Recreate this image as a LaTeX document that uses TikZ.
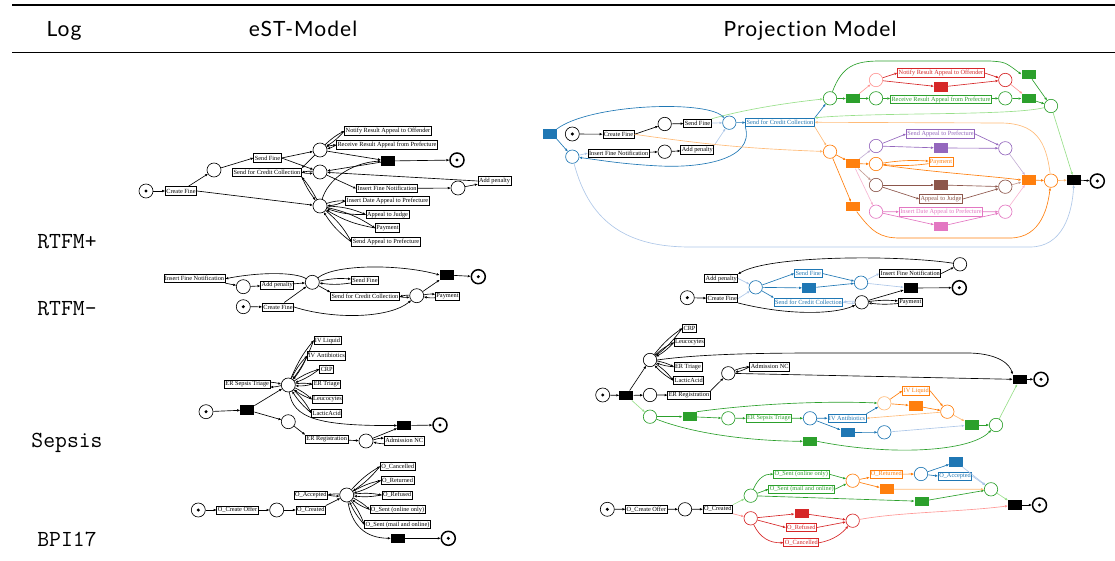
\documentclass[tikz,border=0pt]{standalone}
\usepackage{fontspec}
\setmainfont{Liberation Serif}
\newfontfamily\headfont[LetterSpace=5,Ligatures=NoCommon]{Lato}
\usepackage{tikz}
\usetikzlibrary{arrows.meta}

\definecolor{tblue}{HTML}{1F77B4}
\definecolor{torange}{HTML}{FF7F0E}
\definecolor{tgreen}{HTML}{2CA02C}
\definecolor{tred}{HTML}{D62728}
\definecolor{tpurple}{HTML}{9467BD}
\definecolor{tbrown}{HTML}{8C564B}
\definecolor{tpink}{HTML}{E377C2}
\definecolor{lblue}{HTML}{AEC7E8}
\definecolor{lorange}{HTML}{FFBB78}
\definecolor{lgreen}{HTML}{98DF8A}
\definecolor{lred}{HTML}{FF9896}
\definecolor{lpurple}{HTML}{C5B0D5}
\definecolor{lbrown}{HTML}{C49C94}
\definecolor{lpink}{HTML}{F7B6D2}

\tikzset{
  head/.style={font=\headfont\fontsize{21}{24}\selectfont, inner sep=0pt},
  logname/.style={font=\ttfamily\fontsize{23}{26}\selectfont, inner sep=0pt},
  pl/.style={circle, draw, minimum size=14pt, inner sep=0pt, line width=0.65pt, fill=white},
  ppl/.style={pl, minimum size=13.4pt},
  tokpl/.style={pl, path picture={\fill[black] (path picture bounding box.center) circle (1.7pt);}},
  finpl/.style={tokpl, line width=1.5pt},
  tr/.style={rectangle, fill=black, minimum width=14pt, minimum height=9.5pt, inner sep=0pt},
  act/.style={rectangle, draw, fill=white, line width=0.8pt, font=\fontsize{6.3}{7}\selectfont,
    inner xsep=1pt, inner ysep=0.4pt, minimum height=8.2pt},
  cact/.style={act, draw=#1, text=#1},
  arc/.style={-{Triangle[length=2.8pt,width=2.2pt]}, line width=0.65pt},
}

\begin{document}
\begin{tikzpicture}[x=1pt,y=-1pt]
\useasboundingbox (0,0) rectangle (1115,561);
% table rules and headings
\draw[line width=1.2pt] (12,5) -- (1115,5);
\draw[line width=0.8pt] (12,52) -- (1115,52);
\node[head, anchor=base] (hlog) at (64,37) {Log};
\node[head, anchor=base] (hest) at (303,37) {eST-Model};
\node[head, anchor=base] (hproj) at (810,37) {Projection Model};
\node[logname, anchor=base] (lrp) at (67,248) {RTFM+};
\node[logname, anchor=base] (lrm) at (67,315) {RTFM-};
\node[logname, anchor=base] (lse) at (67,447.5) {Sepsis};
\node[logname, anchor=base] (lbp) at (67,546.5) {BPI17};

% ---------- RTFM+ eST ----------
\node[tokpl] (a0) at (146,191) {};
\node[act] (aCF) at (181,191) {Create Fine};
\node[pl] (a1) at (214,170) {};
\node[act] (aSF) at (267.5,158) {Send Fine};
\node[act] (aSC) at (267,172.5) {Send for Credit Collection};
\node[pl] (a2) at (320,150) {};
\node[pl] (a3) at (320,172) {};
\node[pl] (a4) at (320,206) {};
\node[act] (aNR) at (388,131) {Notify Result Appeal to Offender};
\node[act] (aRR) at (387,145) {Receive Result Appeal from Prefecture};
\node[tr] (aT) at (388,161) {};
\node[finpl] (aE) at (457,160) {};
\node[act] (aIF) at (387,188.5) {Insert Fine Notification};
\node[pl] (a5) at (458,188) {};
\node[act] (aAP) at (494.5,181) {Add penalty};
\node[act] (aID) at (387.5,201) {Insert Date Appeal to Prefecture};
\node[act] (aAJ) at (387.5,214.5) {Appeal to Judge};
\node[act] (aPA) at (387.5,228) {Payment};
\node[act] (aSA) at (386,242) {Send Appeal to Prefecture};
\draw[arc] (a0) -- (aCF);
\draw[arc] (aCF) -- (a1);
\draw[arc] (aCF.east) -- (a4);
\draw[arc] (a1) -- (aSF.west);
\draw[arc] (aSF.east) -- (a2);
\draw[arc] (aSF.east) -- (a3);
\draw[arc] (a2) -- (aSC.north east);
\draw[arc] (a3) to[bend right=8] (aSC.east);
\draw[arc] (aSC.east) to[bend right=8] (a3);
\draw[arc] (a4) to[bend right=6] (aSC.south east);
\draw[arc] (aSC.south east) to[bend right=6] (a4);
\foreach \t in {aNR,aRR} {
  \draw[arc] (a2) to[bend left=8] (\t.west);
  \draw[arc] (\t.west) to[bend left=8] (a2);
}
\draw[arc] (a2) -- (aT);
\draw[arc] (aT) -- (a3);
\draw[arc] (a4) .. controls (328,180) and (350,163) .. (aT.west);
\draw[arc] (aT) -- (aE);
\draw[arc] (a3) -- (aIF.west);
\draw[arc] (aIF) -- (a5);
\draw[arc] (a5) -- (aAP);
\draw[arc] (aAP.west) -- (a3);
\foreach \t in {aID,aAJ,aPA,aSA} {
  \draw[arc] (a4) to[bend left=10] (\t.west);
  \draw[arc] (\t.west) to[bend left=10] (a4);
}

% ---------- RTFM+ projection ----------
\node[tr, fill=tblue] (bB) at (549.5,134) {};
\node[tokpl] (b0) at (572.3,134) {};
\node[act] (bCF) at (618.5,134.3) {Create Fine};
\node[ppl] (b1) at (664.7,124) {};
\node[act] (bSF) at (697.5,123.3) {Send Fine};
\node[ppl, draw=tblue] (b2) at (729.3,122.7) {};
\node[cact=tblue] (bSC) at (780,122.3) {Send for Credit Collection};
\node[ppl, draw=tblue] (b3) at (572.3,156.7) {};
\node[act] (bIF) at (618.7,153.2) {Insert Fine Notification};
\node[ppl] (b4) at (664.7,151.7) {};
\node[act] (bAP) at (697.3,150) {Add penalty};
\node[ppl, draw=tgreen] (g1) at (830,98.3) {};
\node[tr, fill=tgreen] (gT1) at (853,98.7) {};
\node[ppl, draw=tgreen] (g2) at (876,98.3) {};
\node[cact=tgreen] (gRR) at (941,99.5) {Receive Result Appeal from Prefecture};
\node[ppl, draw=tgreen] (g3) at (1005.3,98.3) {};
\node[tr, fill=tgreen] (gT2) at (1028.5,98.7) {};
\node[tr, fill=tgreen] (gT3) at (1028.5,74.3) {};
\node[ppl, draw=tgreen] (g4) at (1051,106) {};
\node[ppl, draw=lred] (r1) at (876,80) {};
\node[cact=tred] (rNR) at (941,73) {Notify Result Appeal to Offender};
\node[tr, fill=tred] (rT) at (941,87) {};
\node[ppl, draw=tred] (r2) at (1005.3,80) {};
\node[ppl, draw=torange] (o1) at (830,151.7) {};
\node[tr, fill=torange] (oT1) at (853,163.7) {};
\node[tr, fill=torange] (oT2) at (853,206.7) {};
\node[ppl, draw=tpurple] (u1) at (876,146) {};
\node[cact=tpurple] (uSA) at (940.5,134) {Send Appeal to Prefecture};
\node[tr, fill=tpurple] (uT) at (941,148) {};
\node[ppl, draw=tpurple] (u2) at (1005.3,148.3) {};
\node[ppl, draw=torange] (o2) at (876,164) {};
\node[cact=torange] (oPA) at (941,162) {Payment};
\node[ppl, draw=tbrown] (w1) at (876,185) {};
\node[tr, fill=tbrown] (wT) at (941,185) {};
\node[cact=tbrown] (wAJ) at (941,199) {Appeal to Judge};
\node[ppl, draw=tbrown] (w2) at (1005.3,186.7) {};
\node[ppl, draw=tpink] (k1) at (876,211.7) {};
\node[cact=tpink] (kID) at (941,212) {Insert Date Appeal to Prefecture};
\node[tr, fill=tpink] (kT) at (941,226.3) {};
\node[ppl, draw=tpink] (k2) at (1005.3,211.7) {};
\node[tr, fill=torange] (oT3) at (1028.5,180) {};
\node[ppl, draw=torange] (o3) at (1051,180.7) {};
\node[tr] (bT) at (1074,180) {};
\node[finpl] (bE) at (1097.3,181) {};
% black and blue part
\draw[arc] (b0) -- (bCF);
\draw[arc] (bCF.east) -- (b1);
\draw[arc] (b1) -- (bSF);
\draw[arc] (bIF) -- (b4);
\draw[arc] (b4) -- (bAP);
\draw[arc, tblue] (bB.north east) .. controls (590,104) and (705,100) .. (b2);
\draw[arc, tblue] (bB.south east) -- (b3);
\draw[arc, tblue] (b2) -- (bSC);
\draw[arc, tblue] (bSC.south west) .. controls (755,160) and (700,168) .. (660,166) .. controls (620,164) and (600,160) .. (b3);
\draw[arc, tblue] (bSC.north east) -- (g1);
\draw[arc, lblue] (b3) -- (bIF.west);
\draw[arc, lblue] (bAP.north east) -- (b2);
\draw[arc, lblue] (bSF) -- (b2);
\draw[arc, lblue] (b3) .. controls (590,225) and (630,247) .. (690,247) -- (1030,247) .. controls (1062,247) and (1072,215) .. (bT);
\draw[arc, lgreen] (bSF.north east) .. controls (750,108) and (795,102) .. (g1);
\draw[arc, lgreen] (g4) .. controls (1010,116) and (880,112) .. (bSC.north east);
\draw[arc, lorange] (o3) .. controls (1046,140) and (1035,123) .. (1000,123) -- (bSC.east);
\draw[arc, lorange] (bCF.east) to[bend right=3] (o1);
\draw[arc, lorange] (bSC.south east) -- (o1);
% green and red part
\draw[arc, tgreen] (g1) -- (gT1);
\draw[arc, tgreen] (gT1) -- (g2);
\draw[arc, tgreen] (g2) -- (gRR);
\draw[arc, tgreen] (gRR) -- (g3);
\draw[arc, tgreen] (g3) -- (gT2);
\draw[arc, tgreen] (gT2) -- (g4);
\draw[arc, tgreen] (gT3) -- (g4);
\draw[arc, tgreen] (g1) .. controls (842,66) and (855,61) .. (880,61) -- (990,61) .. controls (1005,62) .. (gT3.west);
\draw[arc, lgreen] (g4) -- (bT);
\draw[arc, lred] (gT1) -- (r1);
\draw[arc, lred] (r2) -- (gT2);
\draw[arc, tred] (r1) -- (rNR.west);
\draw[arc, tred] (r1) -- (rT);
\draw[arc, tred] (rNR.east) -- (r2);
\draw[arc, tred] (rT) -- (r2);
% orange part
\draw[arc, torange] (o1) -- (oT1);
\draw[arc, torange] (o1) -- (oT2);
\draw[arc, torange] (oT1) -- (o2);
\draw[arc, torange] (o2) to[bend left=6] (oPA);
\draw[arc, torange] (oPA) to[bend left=6] (o2);
\draw[arc, torange] (o2) .. controls (930,172) and (990,176) .. (oT3.west);
\draw[arc, torange] (oT3) -- (o3);
\draw[arc, torange] (oT2) .. controls (872,232) and (880,238) .. (900,238) -- (1010,238) .. controls (1042,238) and (1048,205) .. (o3);
\draw[arc, lorange] (o3) -- (bT);
\draw[arc, lpurple] (oT1) -- (u1);
\draw[arc, lpurple] (u2) -- (oT3);
\draw[arc, tpurple] (u1) -- (uSA.west);
\draw[arc, tpurple] (uSA.east) -- (u2);
\draw[arc, tpurple] (u1) -- (uT);
\draw[arc, tpurple] (uT) -- (u2);
\draw[arc, lbrown] (oT1) -- (w1);
\draw[arc, lbrown] (w2) -- (oT3);
\draw[arc, tbrown] (w1) -- (wT);
\draw[arc, tbrown] (wT) -- (w2);
\draw[arc, tbrown] (w1) -- (wAJ.west);
\draw[arc, tbrown] (wAJ.east) -- (w2);
\draw[arc, lpink] (oT1) -- (k1);
\draw[arc, lpink] (k2) -- (oT3);
\draw[arc, tpink] (k1) -- (kID);
\draw[arc, tpink] (kID) -- (k2);
\draw[arc, tpink] (k1) -- (kT);
\draw[arc, tpink] (kT) -- (k2);
\draw[arc] (bT) -- (bE);

% ---------- RTFM- eST ----------
\node[act] (cIF) at (194.5,278.7) {Insert Fine Notification};
\node[pl] (c1) at (243.3,286.7) {};
\node[act] (cAP) at (277.2,285.2) {Add penalty};
\node[pl] (c2) at (312.3,282.3) {};
\node[act] (cSF) at (365,280.5) {Send Fine};
\node[tr] (cT) at (446.7,275) {};
\node[finpl] (cE) at (478.3,276.7) {};
\node[tokpl] (c0) at (243.3,306.7) {};
\node[act] (cCF) at (278,307) {Create Fine};
\node[act] (cSC) at (365,296.7) {Send for Credit Collection};
\node[pl] (c3) at (416.7,295.7) {};
\node[act] (cPA) at (447.5,296.3) {Payment};
\draw[arc] (c2) .. controls (295,272) and (260,272) .. (cIF.east);
\draw[arc] (cIF.south east) -- (c1);
\draw[arc] (c1) -- (cAP);
\draw[arc] (cAP) -- (c2);
\draw[arc] (c0) -- (cCF);
\draw[arc] (cCF) -- (c2);
\draw[arc] (cCF.east) .. controls (335,320) and (390,318) .. (c3);
\draw[arc] (c2) to[bend left=8] (cSF);
\draw[arc] (cSF) to[bend left=8] (c2);
\draw[arc] (c2) -- (cSC.north west);
\draw[arc] (c3) to[bend right=8] (cSC.east);
\draw[arc] (cSC.east) to[bend right=8] (c3);
\draw[arc] (c2) .. controls (335,264) and (400,264) .. (cT.west);
\draw[arc] (c3) -- (cT);
\draw[arc] (cT) -- (cE);
\draw[arc] (c3) to[bend left=8] (cPA);
\draw[arc] (cPA) to[bend left=8] (c3);

% ---------- RTFM- projection ----------
\node[tokpl] (d0) at (687.3,297.7) {};
\node[act] (dCF) at (722.2,298.5) {Create Fine};
\node[act] (dAP) at (721.2,278.5) {Add penalty};
\node[ppl, draw=tblue] (d1) at (755.7,287.3) {};
\node[cact=tblue] (dSF) at (808.3,273.5) {Send Fine};
\node[tr, fill=tblue] (dB) at (809.2,288) {};
\node[cact=tblue] (dSC) at (808.5,302.2) {Send for Credit Collection};
\node[ppl, draw=tblue] (d2) at (861,282.7) {};
\node[ppl] (d3) at (861.7,302.3) {};
\node[act] (dIF) at (910.3,273.5) {Insert Fine Notification};
\node[ppl] (d4) at (960,264.3) {};
\node[tr] (dT) at (910.8,288) {};
\node[finpl] (dE) at (959.3,287.7) {};
\node[act] (dPA) at (910.3,302.2) {Payment};
\draw[arc] (d0) -- (dCF);
\draw[arc, lblue] (dCF.east) -- (d1);
\draw[arc, lblue] (dAP.east) -- (d1);
\draw[arc] (dCF.south east) .. controls (790,316) and (835,314) .. (d3);
\draw[arc, tblue] (d1) -- (dSF.west);
\draw[arc, tblue] (d1) -- (dB);
\draw[arc, tblue] (d1) -- (dSC.north west);
\draw[arc, tblue] (dSF.east) -- (d2);
\draw[arc, tblue] (dB) -- (d2);
\draw[arc, lblue] (d3) to[bend right=8] (dSC.east);
\draw[arc, lblue] (dSC.east) to[bend right=8] (d3);
\draw[arc, lblue] (d2) -- (dIF.west);
\draw[arc, lblue] (d2) -- (dT);
\draw[arc] (dIF.east) -- (d4);
\draw[arc] (d4) .. controls (900,255) and (770,255) .. (dAP.north east);
\draw[arc] (d3) -- (dT);
\draw[arc] (dT) -- (dE);
\draw[arc] (d3) to[bend left=6] (dPA);
\draw[arc] (dPA) to[bend left=6] (d3);

% ---------- Sepsis eST ----------
\node[tokpl] (e0) at (206,411.7) {};
\node[tr] (eT1) at (247.2,410) {};
\node[pl] (eh) at (288.3,385) {};
\node[act] (eST) at (247.2,384.2) {ER Sepsis Triage};
\node[act] (eIL) at (327.5,340.5) {IV Liquid};
\node[act] (eIA) at (326.7,355.8) {IV Antibiotics};
\node[act] (eCR) at (326.7,369.2) {CRP};
\node[act] (eET) at (326.7,384.2) {ER Triage};
\node[act] (eLE) at (327.5,399.2) {Leucocytes};
\node[act] (eLA) at (326.7,413) {LacticAcid};
\node[pl] (e2) at (288.3,421.7) {};
\node[act] (eER) at (326.7,439.2) {ER Registration};
\node[pl] (e3) at (366,441) {};
\node[act] (eAN) at (404.2,440.8) {Admission NC};
\node[tr] (eT2) at (404.2,425.5) {};
\node[finpl] (eE) at (440,425) {};
\draw[arc] (e0) -- (eT1);
\draw[arc] (eT1) -- (eh);
\draw[arc] (eT1) -- (e2);
\draw[arc] (eh) to[bend left=6] (eST);
\draw[arc] (eST) to[bend left=6] (eh);
\foreach \t in {eIL,eIA,eCR,eET,eLE,eLA} {
  \draw[arc] (eh) to[bend left=8] (\t.west);
  \draw[arc] (\t.west) to[bend left=8] (eh);
}
\draw[arc] (eh) .. controls (293,418) and (318,426) .. (eT2.west);
\draw[arc] (e2) -- (eER.north west);
\draw[arc] (eER) -- (e3);
\draw[arc] (e3) to[bend left=8] (eAN);
\draw[arc] (eAN) to[bend left=8] (e3);
\draw[arc] (e3) -- (eT2);
\draw[arc] (eT2) -- (eE);

% ---------- Sepsis projection ----------
\node[tokpl] (f0) at (602.7,395) {};
\node[tr] (fT1) at (626.3,395.5) {};
\node[ppl] (f1) at (650,360) {};
\node[act] (fCR) at (689.5,328.3) {CRP};
\node[act] (fLE) at (689.5,342.5) {Leucocytes};
\node[act] (fET) at (688,366.8) {ER Triage};
\node[act] (fLA) at (688.7,380.5) {LacticAcid};
\node[ppl] (f2) at (650,395) {};
\node[act] (fER) at (689,395.2) {ER Registration};
\node[ppl] (f3) at (728.3,373.3) {};
\node[act] (fAN) at (769.7,366.8) {Admission NC};
\node[tr] (fT2) at (1019.7,379.3) {};
\node[finpl] (fE) at (1041,379.3) {};
\node[ppl, draw=tgreen] (fg1) at (650,416.7) {};
\node[tr, fill=tgreen] (fgT1) at (689.5,416.7) {};
\node[ppl, draw=tgreen] (fg2) at (728.3,418.3) {};
\node[cact=tgreen] (fST) at (768.8,418.2) {ER Sepsis Triage};
\node[ppl, draw=tblue] (fb1) at (810,418.3) {};
\node[cact=tblue] (fIA) at (847,418.2) {IV Antibiotics};
\node[tr, fill=tblue] (fbT) at (847.5,432.5) {};
\node[ppl, draw=tblue] (fb2) at (884.3,432.3) {};
\node[ppl, draw=lorange] (fo1) at (884.3,403.3) {};
\node[cact=torange] (fIL) at (916.2,390.8) {IV Liquid};
\node[tr, fill=torange] (foT) at (915.8,405.8) {};
\node[ppl, draw=torange] (fo2) at (947.3,411.7) {};
\node[tr, fill=tgreen] (fgT2) at (971.7,425) {};
\node[ppl, draw=tgreen] (fg3) at (996,425) {};
\node[tr, fill=tgreen] (fgT3) at (810,441.3) {};
\draw[arc] (f0) -- (fT1);
\draw[arc] (fT1) -- (f1);
\draw[arc] (fT1) -- (f2);
\draw[arc, lgreen] (fT1) -- (fg1);
\foreach \t in {fCR,fLE,fET,fLA} {
  \draw[arc] (f1) to[bend left=8] (\t.west);
  \draw[arc] (\t.west) to[bend left=8] (f1);
}
\draw[arc] (f1.east) .. controls (700,354) and (760,353) .. (820,353) -- (970,353) .. controls (1000,354) and (1010,365) .. (fT2.north west);
\draw[arc] (f2) -- (fER);
\draw[arc] (fER.north east) -- (f3);
\draw[arc] (f3) to[bend left=8] (fAN.west);
\draw[arc] (fAN.west) to[bend left=8] (f3);
\draw[arc] (f3) -- (fT2.west);
\draw[arc] (fT2) -- (fE);
\draw[arc, tgreen] (fg1) -- (fgT1);
\draw[arc, tgreen] (fgT1) -- (fg2);
\draw[arc, tgreen] (fg2) -- (fST);
\draw[arc, tgreen] (fST) -- (fb1);
\draw[arc, tgreen] (fgT1.north east) .. controls (760,403) and (830,401) .. (fo1);
\draw[arc, tblue] (fb1) -- (fIA);
\draw[arc, tblue] (fb1) -- (fbT);
\draw[arc, tblue] (fIA.north east) -- (fo1);
\draw[arc, tblue] (fbT) -- (fb2);
\draw[arc, torange] (fo1) -- (fIL.west);
\draw[arc, torange] (fo1) -- (foT);
\draw[arc, torange] (fIL.east) -- (fo2);
\draw[arc, torange] (foT) -- (fo2);
\draw[arc, lorange] (fo2) -- (fIA.east);
\draw[arc, lorange] (fo2) -- (fgT2);
\draw[arc, lblue] (fb2) -- (fgT2);
\draw[arc, tgreen] (fgT2) -- (fg3);
\draw[arc, lgreen] (fg3) -- (fT2);
\draw[arc, tgreen] (fg1) .. controls (700,436) and (760,441) .. (fgT3.west);
\draw[arc, tgreen] (fgT3.east) .. controls (890,456) and (970,452) .. (fg3);

% ---------- BPI17 eST ----------
\node[tokpl] (h0) at (198.3,510) {};
\node[act] (hCO) at (237.5,510) {O\_Create Offer};
\node[pl] (h1) at (276.7,510) {};
\node[act] (hCR) at (310.8,510) {O\_Created};
\node[act] (hAC) at (310.8,495) {O\_Accepted};
\node[pl] (hh) at (346.7,495) {};
\node[act] (hCA) at (397.7,466.5) {O\_Cancelled};
\node[act] (hRE) at (397.5,480.5) {O\_Returned};
\node[act] (hRF) at (397.2,495) {O\_Refused};
\node[act] (hSO) at (397.5,509.5) {O\_Sent (online only)};
\node[act] (hSM) at (397.5,524.5) {O\_Sent (mail and online)};
\node[tr] (hT) at (397.8,538.3) {};
\node[finpl] (hE) at (448.3,538.3) {};
\draw[arc] (h0) -- (hCO);
\draw[arc] (hCO) -- (h1);
\draw[arc] (h1) -- (hCR);
\draw[arc] (hCR.north east) -- (hh);
\draw[arc] (hh) to[bend right=8] (hAC.east);
\draw[arc] (hAC.east) to[bend right=8] (hh);
\foreach \t in {hCA,hRE,hRF,hSO,hSM} {
  \draw[arc] (hh) to[bend left=8] (\t.west);
  \draw[arc] (\t.west) to[bend left=8] (hh);
}
\draw[arc] (hh) .. controls (352,525) and (365,538) .. (hT.west);
\draw[arc] (hT) -- (hE);

% ---------- BPI17 projection ----------
\node[tokpl] (i0) at (607.3,509.3) {};
\node[act] (iCO) at (646.3,509.2) {O\_Create Offer};
\node[ppl] (i1) at (685,509.3) {};
\node[act] (iCR) at (717.8,509.2) {O\_Created};
\node[ppl, draw=tgreen] (ig1) at (750.7,495.7) {};
\node[cact=tgreen] (iSO) at (801.3,474.2) {O\_Sent (online only)};
\node[cact=tgreen] (iSM) at (801.7,489.2) {O\_Sent (mail and online)};
\node[ppl, draw=torange] (io1) at (852.7,480.7) {};
\node[cact=torange] (iRE) at (886.3,474.2) {O\_Returned};
\node[tr, fill=torange] (ioT) at (886.8,489.2) {};
\node[ppl, draw=tblue] (ib1) at (921,474) {};
\node[tr, fill=tblue] (ibT) at (956.2,462) {};
\node[cact=tblue] (iAC) at (955,476) {O\_Accepted};
\node[ppl, draw=tgreen] (ig2) at (991,489.3) {};
\node[tr, fill=tgreen] (igT) at (921.5,501.3) {};
\node[tr] (iT) at (1015,505) {};
\node[finpl] (iE) at (1039.5,505) {};
\node[ppl, draw=tred] (ir1) at (750.7,518.3) {};
\node[tr, fill=tred] (irT) at (801.5,513.3) {};
\node[cact=tred] (iRF) at (801.3,527.5) {O\_Refused};
\node[cact=tred] (iCA) at (801.3,542.7) {O\_Cancelled};
\node[ppl, draw=tred] (ir2) at (852.7,520.7) {};
\draw[arc] (i0) -- (iCO);
\draw[arc] (iCO) -- (i1);
\draw[arc] (i1) -- (iCR);
\draw[arc, lgreen] (iCR.north east) -- (ig1);
\draw[arc, lred] (iCR.south east) -- (ir1);
\draw[arc, tgreen] (ig1) .. controls (758,478) and (765,474) .. (iSO.west);
\draw[arc, tgreen] (ig1) -- (iSM.west);
\draw[arc, tgreen] (iSO.east) -- (io1);
\draw[arc, tgreen] (iSM.east) -- (io1);
\draw[arc, tgreen] (ig1) -- (igT);
\draw[arc, tgreen] (igT) -- (ig2);
\draw[arc, torange] (io1) -- (iRE);
\draw[arc, torange] (io1) -- (ioT);
\draw[arc, torange] (iRE) -- (ib1);
\draw[arc, lorange] (ioT) -- (ig2);
\draw[arc, tblue] (ib1) -- (ibT);
\draw[arc, tblue] (ib1) -- (iAC.west);
\draw[arc, lblue] (ibT) -- (ig2);
\draw[arc, lblue] (iAC.east) -- (ig2);
\draw[arc, lgreen] (ig2) -- (iT);
\draw[arc, lred] (ir2) .. controls (900,512) and (960,512) .. (iT);
\draw[arc, tred] (ir1) -- (irT);
\draw[arc, tred] (ir1) -- (iRF.west);
\draw[arc, tred] (ir1) .. controls (760,538) and (770,543) .. (iCA.west);
\draw[arc, tred] (irT) -- (ir2);
\draw[arc, tred] (iRF.east) -- (ir2);
\draw[arc, tred] (iCA.east) .. controls (835,540) and (843,532) .. (ir2);
\draw[arc] (iT) -- (iE);
\end{tikzpicture}
\end{document}
